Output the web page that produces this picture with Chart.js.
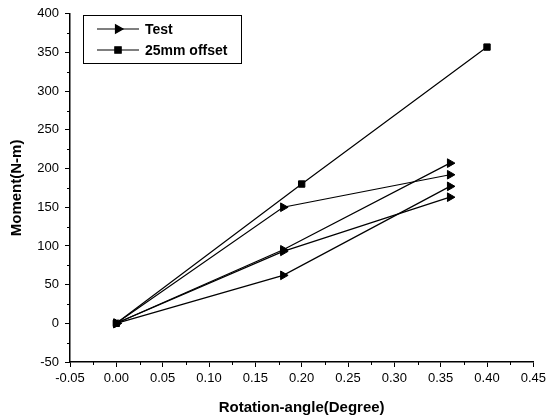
<!DOCTYPE html>
<html>
<head>
<meta charset="utf-8">
<script src="https://cdn.jsdelivr.net/npm/chart.js@4/dist/chart.umd.min.js"></script>
<style>
  body { margin: 0; background: #fff; }
  canvas { display: block; }
</style>
</head>
<body>
<canvas id="mycanvas" width="550" height="418"></canvas>
<script>
// rotation angles (degree)
var testX = [0, 0.18, 0.36];
var offsetX = [0, 0.2, 0.4];

// moments (N-m)
var test1 = [0, 150, 192];
var test2 = [0, 95, 207];
var test3 = [0, 93, 163];
var test4 = [0, 62, 177];
var offset25 = [0, 180, 357];

var legendLabels = ["Test", "25mm offset"];
var xTitle = "Rotation-angle(Degree)";
var yTitle = "Moment(N-m)";

var FONT = "'Liberation Sans', Arial, sans-serif";

function pts(xs, ys) {
	var out = [];
	for (var i = 0; i < xs.length; i++) {
		out.push({x: xs[i], y: ys[i]});
	}
	return out;
}

function testSet(ys) {
	return {
		label: "Test",
		data: pts(testX, ys),
		borderColor: '#000',
		backgroundColor: '#000',
		borderWidth: 1.2,
		pointStyle: 'triangle',
		rotation: 90,
		pointRadius: 5,
		pointBorderWidth: 1,
		tension: 0
	};
}

var datasets = [
	testSet(test1),
	testSet(test2),
	testSet(test3),
	testSet(test4),
	{
		label: "25mm offset",
		data: pts(offsetX, offset25),
		borderColor: '#000',
		backgroundColor: '#000',
		borderWidth: 1.2,
		pointStyle: 'rect',
		pointRadius: 4.5,
		pointBorderWidth: 1,
		tension: 0
	}
];

// small ticks halfway between the labelled ones
var minorTicks = {
	id: 'minorTicks',
	afterDraw: function(chart) {
		var ctx = chart.ctx;
		var xs = chart.scales.x, ys = chart.scales.y;
		ctx.save();
		ctx.strokeStyle = '#000';
		ctx.lineWidth = 1;
		ctx.beginPath();
		for (var i = 0; i < xs.ticks.length - 1; i++) {
			var px = Math.round(xs.getPixelForValue((xs.ticks[i].value + xs.ticks[i + 1].value) / 2)) + 0.5;
			ctx.moveTo(px, xs.top);
			ctx.lineTo(px, xs.top + 3);
		}
		for (var j = 0; j < ys.ticks.length - 1; j++) {
			var py = Math.round(ys.getPixelForValue((ys.ticks[j].value + ys.ticks[j + 1].value) / 2)) + 0.5;
			ctx.moveTo(ys.right, py);
			ctx.lineTo(ys.right - 3, py);
		}
		ctx.stroke();
		ctx.restore();
	}
};

// boxed legend with line + marker, like the original
var boxLegend = {
	id: 'boxLegend',
	afterDraw: function(chart) {
		var ctx = chart.ctx;
		var bx = 83.5, by = 15.5, bw = 158, bh = 48;
		ctx.save();
		ctx.fillStyle = '#fff';
		ctx.fillRect(bx, by, bw, bh);
		ctx.strokeStyle = '#000';
		ctx.lineWidth = 1;
		ctx.strokeRect(bx, by, bw, bh);
		var rows = [
			{y: 29, style: 'triangle', rot: 90, r: 5},
			{y: 50, style: 'rect', rot: 0, r: 4.5}
		];
		ctx.font = "bold 14px " + FONT;
		ctx.textBaseline = 'middle';
		for (var i = 0; i < rows.length; i++) {
			ctx.strokeStyle = '#000';
			ctx.lineWidth = 1.2;
			ctx.beginPath();
			ctx.moveTo(97, rows[i].y);
			ctx.lineTo(139, rows[i].y);
			ctx.stroke();
			ctx.fillStyle = '#000';
			Chart.helpers.drawPoint(ctx, {
				pointStyle: rows[i].style, rotation: rows[i].rot,
				radius: rows[i].r, borderWidth: 1
			}, 118, rows[i].y);
			ctx.fillStyle = '#000';
			ctx.fillText(legendLabels[i], 145, rows[i].y + 1);
		}
		ctx.restore();
	}
};

var ctx = document.getElementById('mycanvas');

var LineGraph = new Chart(ctx, {
	type: 'line',
	data: {datasets: datasets},
	plugins: [minorTicks, boxLegend],
	options: {
		responsive: false,
		animation: false,
		layout: {padding: {left: 0, top: 13, right: 15, bottom: 0}},
		plugins: {
			legend: {display: false},
			tooltip: {enabled: false}
		},
		scales: {
			x: {
				type: 'linear',
				min: -0.05,
				max: 0.45,
				afterFit: function(s) { s.height = 56; },
				ticks: {
					stepSize: 0.05,
					color: '#000',
					padding: 4,
					maxRotation: 0,
					font: {family: FONT, size: 13},
					callback: function(v) { return v.toFixed(2); }
				},
				grid: {display: true, drawOnChartArea: false, color: '#000', tickLength: 5, tickWidth: 1},
				border: {display: true, color: '#000', width: 1.5},
				title: {display: true, text: xTitle, color: '#000', padding: {top: 0, bottom: 1},
					font: {family: FONT, size: 15, weight: 'bold'}}
			},
			y: {
				min: -50,
				max: 400,
				afterFit: function(s) { s.width = 70; },
				ticks: {
					stepSize: 50,
					color: '#000',
					padding: 6,
					font: {family: FONT, size: 13}
				},
				grid: {display: true, drawOnChartArea: false, color: '#000', tickLength: 5, tickWidth: 1},
				border: {display: true, color: '#000', width: 1.5},
				title: {display: true, text: yTitle, color: '#000', padding: {top: 8, bottom: 0},
					font: {family: FONT, size: 15, weight: 'bold'}}
			}
		}
	}
});
</script>
</body>
</html>
